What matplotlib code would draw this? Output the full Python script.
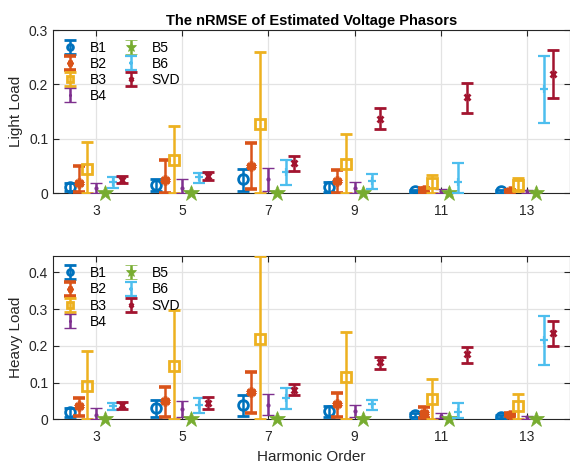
import matplotlib
matplotlib.use("Agg")
import matplotlib.pyplot as plt
import numpy as np

plt.rcParams['font.family'] = ['Liberation Sans', 'DejaVu Sans']

harmonics = [3, 5, 7, 9, 11, 13]
methods = ["B1", "B2", "B3", "B4", "B5", "B6", "SVD"]

# Light load: mean nRMSE, lower and upper ends of each error bar (rows follow `methods`)
light_mean = [
    [0.011, 0.015, 0.025, 0.012, 0.004, 0.003],
    [0.018, 0.024, 0.050, 0.022, 0.006, 0.004],
    [0.045, 0.060, 0.127, 0.053, 0.018, 0.015],
    [0.010, 0.009, 0.025, 0.009, 0.004, 0.003],
    [0.001, 0.001, 0.001, 0.001, 0.001, 0.001],
    [0.020, 0.029, 0.039, 0.022, 0.021, 0.191],
    [0.024, 0.032, 0.056, 0.137, 0.176, 0.219],
]
light_low = [
    [0.004, 0.004, 0.004, 0.002, 0.002, 0.001],
    [0.002, 0.000, 0.007, 0.000, 0.002, 0.002],
    [0.000, 0.000, 0.000, 0.000, 0.000, 0.004],
    [0.000, 0.000, 0.004, 0.000, 0.000, 0.000],
    [0.0005, 0.0005, 0.0005, 0.0005, 0.0005, 0.0005],
    [0.009, 0.018, 0.015, 0.007, 0.000, 0.129],
    [0.018, 0.024, 0.040, 0.118, 0.148, 0.175],
]
light_high = [
    [0.018, 0.025, 0.045, 0.021, 0.006, 0.005],
    [0.050, 0.060, 0.093, 0.042, 0.010, 0.006],
    [0.094, 0.123, 0.259, 0.109, 0.034, 0.027],
    [0.019, 0.026, 0.047, 0.021, 0.008, 0.005],
    [0.0015, 0.0015, 0.0015, 0.0015, 0.0015, 0.0015],
    [0.030, 0.037, 0.061, 0.036, 0.056, 0.252],
    [0.032, 0.039, 0.068, 0.156, 0.203, 0.263],
]

# Heavy load
heavy_mean = [
    [0.019, 0.030, 0.039, 0.023, 0.012, 0.007],
    [0.035, 0.051, 0.075, 0.041, 0.016, 0.012],
    [0.091, 0.146, 0.218, 0.115, 0.055, 0.035],
    [0.012, 0.027, 0.039, 0.023, 0.010, 0.005],
    [0.001, 0.001, 0.001, 0.001, 0.001, 0.001],
    [0.035, 0.039, 0.057, 0.042, 0.021, 0.215],
    [0.039, 0.044, 0.080, 0.155, 0.178, 0.235],
]
heavy_low = [
    [0.007, 0.007, 0.010, 0.007, 0.006, 0.003],
    [0.009, 0.007, 0.016, 0.007, 0.003, 0.008],
    [0.000, 0.000, 0.000, 0.000, 0.000, 0.000],
    [0.000, 0.007, 0.012, 0.007, 0.003, 0.002],
    [0.0005, 0.0005, 0.0005, 0.0005, 0.0005, 0.0005],
    [0.024, 0.016, 0.027, 0.025, 0.003, 0.148],
    [0.027, 0.027, 0.065, 0.137, 0.153, 0.200],
]
heavy_high = [
    [0.030, 0.053, 0.066, 0.036, 0.018, 0.011],
    [0.057, 0.089, 0.130, 0.071, 0.033, 0.016],
    [0.186, 0.298, 0.445, 0.238, 0.110, 0.069],
    [0.032, 0.051, 0.068, 0.039, 0.018, 0.008],
    [0.0015, 0.0015, 0.0015, 0.0015, 0.0015, 0.0015],
    [0.045, 0.057, 0.086, 0.053, 0.044, 0.280],
    [0.048, 0.062, 0.096, 0.169, 0.198, 0.268],
]

offsets = [-0.6, -0.4, -0.2, 0.0, 0.2, 0.4, 0.6]
colors = ["#0072BD", "#D95319", "#EDB120", "#7E2F8E", "#77AC30", "#4DBEEE", "#A2142F"]
asterisk = (6, 2, 0)
styles = [
    dict(marker="o", ms=7, mfc="none", mew=2.0),
    dict(marker=asterisk, ms=7, mew=2.6),
    dict(marker="s", ms=7, mfc="none", mew=2.0),
    dict(marker=".", ms=4, mew=1.0),
    dict(marker="*", ms=12, mew=0.5),
    dict(marker="+", ms=6, mew=1.6),
    dict(marker="x", ms=5, mew=2.0),
]

fig = plt.figure(figsize=(5.7, 4.63), dpi=100)
ax_top = fig.add_axes([0.093, 0.583, 0.907, 0.352])
ax_bot = fig.add_axes([0.093, 0.0944, 0.907, 0.353])


def draw_panel(ax, mean, low, high, ylabel, ymax, yticks):
    x = np.array(harmonics, dtype=float)
    for i, name in enumerate(methods):
        m = np.array(mean[i])
        lo = np.array(low[i])
        hi = np.array(high[i])
        st = dict(styles[i])
        cont = ax.errorbar(x + offsets[i], m, yerr=[m - lo, hi - m],
                           color=colors[i], linestyle="none", elinewidth=1.8,
                           capsize=4, capthick=1.8, label=name, zorder=3 + i * 0.1,
                           **st)
        if name == "B5":
            cont[0].set_clip_on(False)
    ax.set_xlim(2, 14)
    ax.set_ylim(0, ymax)
    ax.set_xticks(harmonics)
    ax.set_yticks(yticks)
    ax.set_yticklabels(["0" if t == 0 else f"{t:g}" for t in yticks])
    ax.grid(True, color="#e3e3e3", linewidth=0.9)
    ax.set_axisbelow(True)
    ax.tick_params(direction="in", top=True, right=True, labelsize=10,
                   length=4, width=0.8, colors="#262626")
    ax.tick_params(axis="x", pad=8)
    for sp in ax.spines.values():
        sp.set_color("#262626")
        sp.set_linewidth(0.8)
    ax.set_ylabel(ylabel, fontsize=11, color="#262626", labelpad=4)
    ax.legend(loc="upper left", ncol=2, frameon=False, fontsize=10,
              handlelength=0.9, handletextpad=1.0, columnspacing=1.3,
              labelspacing=0.16, borderaxespad=0.35, markerscale=0.6,
              bbox_to_anchor=(0.0, 1.0))


draw_panel(ax_top, light_mean, light_low, light_high, "Light Load", 0.3,
           [0, 0.1, 0.2, 0.3])
draw_panel(ax_bot, heavy_mean, heavy_low, heavy_high, "Heavy Load", 0.445,
           [0, 0.1, 0.2, 0.3, 0.4])

ax_top.set_title("The nRMSE of Estimated Voltage Phasors", fontsize=10.5,
                 fontweight="bold", pad=4)
ax_bot.set_xlabel("Harmonic Order", fontsize=11, color="#262626", labelpad=4)

fig.savefig("out.png", dpi=100)
